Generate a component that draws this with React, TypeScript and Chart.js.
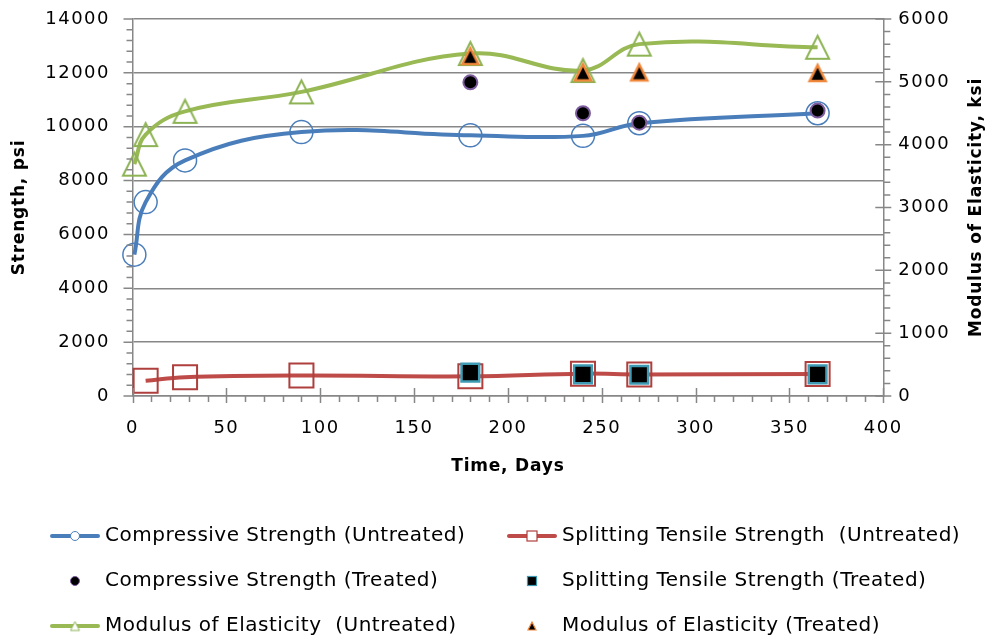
import React, { useEffect, useRef } from 'react';
import { Chart, registerables } from 'chart.js';

Chart.register(...registerables);

// Test ages in days and measured values
const compDays = [1, 7, 28, 90, 180, 240, 270, 365];
const compUntreated = [5250, 7200, 8750, 9800, 9680, 9660, 10130, 10500];
const compTreatedDays = [180, 240, 270, 365];
const compTreated = [11650, 10500, 10150, 10600];

const splitDays = [7, 28, 90, 180, 240, 270, 365];
const splitUntreated = [570, 700, 760, 730, 830, 800, 820];
const splitTreatedDays = [180, 240, 270, 365];
const splitTreated = [870, 800, 790, 800];

const modDays = [1, 7, 28, 90, 180, 240, 270, 365];
const modUntreated = [3690, 4160, 4530, 4840, 5450, 5180, 5600, 5550];
const modTreatedDays = [180, 240, 270, 365];
const modTreated = [5410, 5150, 5150, 5140];

// Axis ticks
const dayTicks = [0, 50, 100, 150, 200, 250, 300, 350, 400];
const strengthTicks = [0, 2000, 4000, 6000, 8000, 10000, 12000, 14000];
const modulusTicks = [0, 1000, 2000, 3000, 4000, 5000, 6000];

const FONT = '"DejaVu Sans", sans-serif';
const AXIS_GRAY = '#878787';
const CLEAR = 'rgba(0,0,0,0)';

const BLUE = '#4A7EBB';
const RED = '#BE4B48';
const RED_EDGE = '#AE3F3C';
const GREEN = '#98B954';
const GREEN_EDGE = '#8DB355';
const PURPLE = '#7D5C9E';
const TEAL = '#3F9AB3';
const ORANGE = '#F0873A';

function triangleMarker(size: number, fill: string | null, stroke: string, lw: number): HTMLCanvasElement {
  const pad = Math.ceil(lw) + 1;
  const c = document.createElement('canvas');
  c.width = size + pad * 2;
  c.height = size + pad * 2;
  const ctx = c.getContext('2d')!;
  ctx.beginPath();
  ctx.moveTo(pad + size / 2, pad);
  ctx.lineTo(pad + size, pad + size);
  ctx.lineTo(pad, pad + size);
  ctx.closePath();
  if (fill) {
    ctx.fillStyle = fill;
    ctx.fill();
  }
  ctx.lineWidth = lw;
  ctx.strokeStyle = stroke;
  ctx.stroke();
  return c;
}

const toPoints = (xs: number[], ys: number[]) => xs.map((x, i) => ({ x, y: ys[i] }));

type LegendItem = { label: string; line: string | null; draw: (ctx: CanvasRenderingContext2D, x: number, y: number) => void };

const legendItems: LegendItem[] = [
  {
    label: 'Compressive Strength (Untreated)',
    line: BLUE,
    draw: (ctx, x, y) => {
      ctx.beginPath();
      ctx.arc(x, y, 4.5, 0, Math.PI * 2);
      ctx.fillStyle = '#fff';
      ctx.fill();
      ctx.lineWidth = 1;
      ctx.strokeStyle = BLUE;
      ctx.stroke();
    },
  },
  {
    label: 'Splitting Tensile Strength  (Untreated)',
    line: RED,
    draw: (ctx, x, y) => {
      ctx.fillStyle = '#fff';
      ctx.fillRect(x - 5, y - 5, 10, 10);
      ctx.lineWidth = 1.2;
      ctx.strokeStyle = RED_EDGE;
      ctx.strokeRect(x - 5, y - 5, 10, 10);
    },
  },
  {
    label: 'Compressive Strength (Treated)',
    line: null,
    draw: (ctx, x, y) => {
      ctx.beginPath();
      ctx.arc(x, y, 4.5, 0, Math.PI * 2);
      ctx.fillStyle = '#000';
      ctx.fill();
      ctx.lineWidth = 1;
      ctx.strokeStyle = PURPLE;
      ctx.stroke();
    },
  },
  {
    label: 'Splitting Tensile Strength (Treated)',
    line: null,
    draw: (ctx, x, y) => {
      ctx.fillStyle = '#000';
      ctx.fillRect(x - 4.5, y - 4.5, 9, 9);
      ctx.lineWidth = 1.2;
      ctx.strokeStyle = TEAL;
      ctx.strokeRect(x - 4.5, y - 4.5, 9, 9);
    },
  },
  {
    label: 'Modulus of Elasticity  (Untreated)',
    line: GREEN,
    draw: (ctx, x, y) => {
      const m = triangleMarker(9, '#fff', GREEN_EDGE, 1);
      ctx.drawImage(m, x - m.width / 2, y - m.height / 2);
    },
  },
  {
    label: 'Modulus of Elasticity (Treated)',
    line: null,
    draw: (ctx, x, y) => {
      const m = triangleMarker(8, '#000', ORANGE, 1.2);
      ctx.drawImage(m, x - m.width / 2, y - m.height / 2);
    },
  },
];

const decorPlugin = {
  id: 'decor',
  beforeDraw(chart: any) {
    // slightly open tracking for the tick labels
    chart.ctx.letterSpacing = '1.5px';
  },
  afterDraw(chart: any) {
    const { ctx, chartArea, scales } = chart;
    const xs = scales.x;
    const yl = scales.y;
    const yr = scales.y2;
    ctx.save();
    ctx.strokeStyle = AXIS_GRAY;
    ctx.lineWidth = 1.5;

    // x axis: major ticks cross the axis, minor ticks point outward
    ctx.beginPath();
    for (let d = 0; d <= 400; d += 10) {
      const px = Math.round(xs.getPixelForValue(d)) + 0.5;
      if (d % 50 === 0) {
        ctx.moveTo(px, chartArea.bottom - 8);
        ctx.lineTo(px, chartArea.bottom + 7);
      } else {
        ctx.moveTo(px, chartArea.bottom);
        ctx.lineTo(px, chartArea.bottom + 6);
      }
    }
    // left axis: major ticks extend the gridlines outward, minor ticks every 400
    for (let v = 0; v <= 14000; v += 400) {
      const py = yl.getPixelForValue(v);
      const len = v % 2000 === 0 ? 9 : 6;
      ctx.moveTo(chartArea.left - len, py);
      ctx.lineTo(chartArea.left, py);
    }
    // right axis: major ticks cross, minor ticks every 200 outward
    for (let v = 0; v <= 6000; v += 200) {
      const py = yr.getPixelForValue(v);
      if (v % 1000 === 0) {
        ctx.moveTo(chartArea.right - 8, py);
        ctx.lineTo(chartArea.right + 8, py);
      } else {
        ctx.moveTo(chartArea.right, py);
        ctx.lineTo(chartArea.right + 7, py);
      }
    }
    ctx.stroke();

    // axis titles
    ctx.fillStyle = '#000';
    ctx.font = `bold 17px ${FONT}`;
    ctx.letterSpacing = '0.8px';
    ctx.textAlign = 'center';
    ctx.textBaseline = 'middle';
    const midY = (chartArea.top + chartArea.bottom) / 2;
    ctx.fillText('Time, Days', (chartArea.left + chartArea.right) / 2, 467);
    ctx.save();
    ctx.translate(20, midY);
    ctx.rotate(-Math.PI / 2);
    ctx.fillText('Strength, psi', 0, 0);
    ctx.restore();
    ctx.save();
    ctx.translate(977, midY);
    ctx.rotate(-Math.PI / 2);
    ctx.fillText('Modulus of Elasticity, ksi', 0, 0);
    ctx.restore();

    // legend, two columns by three rows
    const colX = [50, 507];
    const rowY = [536, 581, 626];
    ctx.font = `20px ${FONT}`;
    ctx.letterSpacing = '0.5px';
    ctx.textAlign = 'left';
    legendItems.forEach((item, i) => {
      const x0 = colX[i % 2];
      const y = rowY[Math.floor(i / 2)];
      if (item.line) {
        ctx.beginPath();
        ctx.lineWidth = 4;
        ctx.lineCap = 'round';
        ctx.strokeStyle = item.line;
        ctx.moveTo(x0 + 2, y);
        ctx.lineTo(x0 + 48, y);
        ctx.stroke();
      }
      item.draw(ctx, x0 + 25, y);
      ctx.fillStyle = '#000';
      ctx.fillText(item.label, x0 + 55, y);
    });
    ctx.restore();
    ctx.letterSpacing = '0px';
  },
};

const plainTick = (v: any) => String(v);

export default function App() {
  const ref = useRef<HTMLCanvasElement>(null);

  useEffect(() => {
    document.body.style.margin = '0';
    const canvas = ref.current!;
    const triOpen = triangleMarker(23, null, GREEN_EDGE, 2);
    const triSolid = triangleMarker(16, '#000', ORANGE, 2.5);

    const chart = new Chart(canvas, {
      type: 'line',
      data: {
        datasets: [
          {
            label: 'Modulus of Elasticity (Treated)',
            data: toPoints(modTreatedDays, modTreated),
            yAxisID: 'y2',
            showLine: false,
            pointStyle: triSolid,
            pointRadius: 10,
            order: 1,
            clip: false,
          },
          {
            label: 'Splitting Tensile Strength (Treated)',
            data: toPoints(splitTreatedDays, splitTreated),
            yAxisID: 'y',
            showLine: false,
            pointStyle: 'rect',
            pointRadius: 12.5,
            pointBorderWidth: 2.5,
            pointBorderColor: TEAL,
            pointBackgroundColor: '#000',
            order: 2,
            clip: false,
          },
          {
            label: 'Compressive Strength (Treated)',
            data: toPoints(compTreatedDays, compTreated),
            yAxisID: 'y',
            showLine: false,
            pointStyle: 'circle',
            pointRadius: 7,
            pointBorderWidth: 2,
            pointBorderColor: PURPLE,
            pointBackgroundColor: '#000',
            order: 3,
            clip: false,
          },
          {
            label: 'Modulus of Elasticity  (Untreated)',
            data: toPoints(modDays, modUntreated),
            yAxisID: 'y2',
            borderColor: GREEN,
            borderWidth: 4,
            tension: 0.4,
            pointStyle: triOpen,
            pointRadius: 12,
            order: 4,
            clip: false,
          },
          {
            label: 'Splitting Tensile Strength  (Untreated)',
            data: toPoints(splitDays, splitUntreated),
            yAxisID: 'y',
            borderColor: RED,
            borderWidth: 4,
            tension: 0.4,
            pointStyle: 'rect',
            pointRadius: 17,
            pointBorderWidth: 2,
            pointBorderColor: RED_EDGE,
            pointBackgroundColor: CLEAR,
            order: 5,
            clip: false,
          },
          {
            label: 'Compressive Strength (Untreated)',
            data: toPoints(compDays, compUntreated),
            yAxisID: 'y',
            borderColor: BLUE,
            borderWidth: 4,
            tension: 0.4,
            pointStyle: 'circle',
            pointRadius: 11.5,
            pointBorderWidth: 1.5,
            pointBorderColor: BLUE,
            pointBackgroundColor: CLEAR,
            order: 6,
            clip: false,
          },
        ],
      },
      options: {
        animation: false,
        responsive: false,
        events: [],
        layout: { padding: { top: 16, left: 0, right: 0, bottom: 0 } },
        plugins: {
          legend: { display: false },
          tooltip: { enabled: false },
        },
        scales: {
          x: {
            type: 'linear',
            min: 0,
            max: 400,
            afterBuildTicks: (s: any) => {
              s.ticks = dayTicks.map((v) => ({ value: v }));
            },
            afterFit: (s: any) => {
              s.height = 245;
            },
            grid: { display: false, drawTicks: false },
            border: { display: true, color: AXIS_GRAY, width: 1.5 },
            ticks: {
              padding: 22,
              color: '#000',
              font: { family: FONT, size: 18 },
              maxRotation: 0,
              callback: plainTick,
            },
          },
          y: {
            type: 'linear',
            position: 'left',
            min: 0,
            max: 14000,
            afterBuildTicks: (s: any) => {
              s.ticks = strengthTicks.map((v) => ({ value: v }));
            },
            afterFit: (s: any) => {
              s.width = 132.5;
            },
            grid: { color: AXIS_GRAY, lineWidth: 1.5, drawTicks: true, tickLength: 18.5, tickColor: CLEAR },
            border: { display: true, color: AXIS_GRAY, width: 1.5 },
            ticks: {
              padding: 4,
              color: '#000',
              font: { family: FONT, size: 18 },
              callback: plainTick,
            },
          },
          y2: {
            type: 'linear',
            position: 'right',
            min: 0,
            max: 6000,
            afterBuildTicks: (s: any) => {
              s.ticks = modulusTicks.map((v) => ({ value: v }));
            },
            afterFit: (s: any) => {
              s.width = 111.7;
            },
            grid: { drawOnChartArea: false, drawTicks: true, tickLength: 11, tickColor: CLEAR },
            border: { display: true, color: AXIS_GRAY, width: 1.5 },
            ticks: {
              padding: 4,
              color: '#000',
              font: { family: FONT, size: 18 },
              callback: plainTick,
            },
          },
        },
      },
      plugins: [decorPlugin],
    } as any);

    return () => chart.destroy();
  }, []);

  return <canvas ref={ref} width={995} height={641} style={{ display: 'block' }} />;
}
